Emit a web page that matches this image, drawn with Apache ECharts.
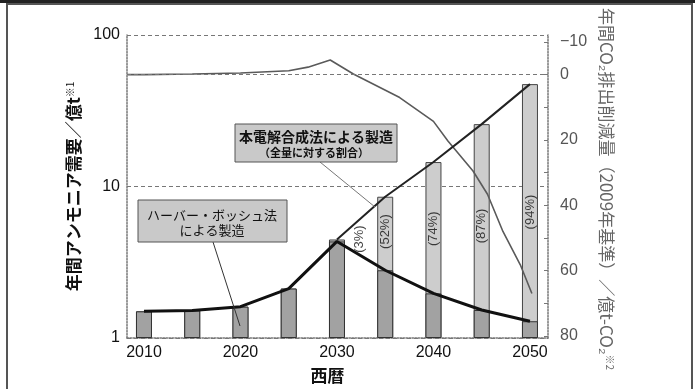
<!DOCTYPE html>
<html>
<head>
<meta charset="utf-8">
<script src="https://cdn.jsdelivr.net/npm/echarts@6/dist/echarts.min.js"></script>
<style>
  html, body { margin: 0; padding: 0; background: #fff; }
  #chart { width: 695px; height: 389px; }
</style>
</head>
<body>
<div id="chart"></div>
<script>
// bar years (every 5 years)
const years = [2010, 2015, 2020, 2025, 2030, 2035, 2040, 2045, 2050];
// total ammonia demand, 億t (log axis)
const totalDemand = [1.50, 1.52, 1.61, 2.12, 4.47, 8.56, 14.5, 25.8, 47.4];
// part made by Haber-Bosch
const habDemand = [1.50, 1.52, 1.61, 2.12, 4.34, 2.80, 1.97, 1.53, 1.29];

// share of the electrolysis process, written on the bars
const shareLabels = ['(3%)', '(52%)', '(74%)', '(87%)', '(94%)'];
const shareYears = [2032.3, 2035, 2040, 2045, 2050];
const shareLevels = [4.5, 5.04, 5.26, 5.49, 6.78];

// yearly CO2 reduction vs 2009, 億t-CO2 (right axis, inverted)
const co2Years = [2008.3, 2010, 2015, 2020, 2025, 2027, 2029.3, 2031.7, 2036.5, 2040, 2041.5, 2044.1, 2045.6, 2047.2, 2049, 2050.2];
const co2Values = [0, 0, -0.2, -0.5, -1.2, -2.3, -4.5, -0.2, 7.0, 14.3, 20.3, 29.5, 36.6, 48, 58.2, 67];

const xTickLabels = [2010, 2020, 2030, 2040, 2050];
const rightTickLabels = [-10, 0, 20, 40, 60, 80];

const jp = "'Noto Sans CJK JP', sans-serif";
const num = "'Liberation Sans', Arial, sans-serif";

const zip = (xs, ys) => xs.map((x, i) => [x, ys[i]]);

const chart = echarts.init(document.getElementById('chart'), null, { renderer: 'canvas' });

const option = {
    animation: false,
    backgroundColor: '#fff',
    grid: [
        { left: 127, right: 147, top: 35, bottom: 42 },
        { left: 127, right: 147, top: 42, bottom: 53 }
    ],
    xAxis: [
        {
            type: 'value', gridIndex: 0, min: 2008.24, max: 2051.87,
            axisLine: { lineStyle: { color: '#777', type: 'dotted', width: 1.5 } },
            axisTick: { show: true, inside: true, length: 4, customValues: years, lineStyle: { color: '#444' } },
            axisLabel: { customValues: xTickLabels, fontSize: 16, color: '#111', fontFamily: num, margin: 7, formatter: v => String(v) },
            splitLine: { show: false },
            name: '西暦', nameLocation: 'middle', nameGap: 29,
            nameTextStyle: { fontSize: 17, fontWeight: 'bold', color: '#111', fontFamily: jp, padding: [0, 20, 0, 0] }
        },
        { type: 'value', gridIndex: 1, min: 2008.24, max: 2051.87, show: false }
    ],
    yAxis: [
        {
            type: 'log', logBase: 10, gridIndex: 0, min: 1, max: 100,
            axisLine: { show: true, lineStyle: { color: '#777', type: 'dotted', width: 1.5 } },
            axisTick: { show: false },
            axisLabel: { fontSize: 16, color: '#111', fontFamily: num, margin: 7 },
            splitLine: { show: true, lineStyle: { color: '#777', type: [4, 3], width: 1 } },
            name: '年間アンモニア需要／億t{s|※1}', nameLocation: 'middle', nameRotate: 90, nameGap: 30,
            nameTextStyle: {
                fontSize: 17, fontWeight: 'bold', color: '#111', fontFamily: jp,
                rich: { s: { fontSize: 10, fontWeight: 'normal', color: '#111', verticalAlign: 'top', fontFamily: jp } }
            }
        },
        {
            type: 'value', gridIndex: 1, position: 'right', inverse: true, min: -10, max: 80, interval: 10,
            axisLine: { show: false },
            axisTick: { show: true, inside: true, length: 4, lineStyle: { color: '#777' } },
            axisLabel: {
                fontSize: 16, color: '#555', fontFamily: num, margin: 12,
                formatter: v => rightTickLabels.includes(v) ? (v < 0 ? '−' + (-v) : String(v)) : ''
            },
            splitLine: { show: false },
            name: '年間CO₂排出削減量（2009年基準）／億t-CO₂{s|※2}', nameLocation: 'middle', nameRotate: -90, nameGap: 42,
            nameTextStyle: {
                fontSize: 17, color: '#666', fontFamily: jp,
                rich: { s: { fontSize: 10, color: '#666', verticalAlign: 'top', fontFamily: jp } }
            }
        },
        {
            // right edge of the frame
            type: 'value', gridIndex: 0, position: 'right',
            axisLine: { show: true, lineStyle: { color: '#777', type: 'dotted', width: 1.5 } },
            axisTick: { show: false }, axisLabel: { show: false }, splitLine: { show: false }
        }
    ],
    series: [
        {
            name: 'total', type: 'bar', xAxisIndex: 0, yAxisIndex: 0,
            data: zip(years, totalDemand), barWidth: 16, barGap: '-100%',
            itemStyle: { color: '#cdcdcd', borderColor: '#444', borderWidth: 1 }
        },
        {
            name: 'haber', type: 'bar', xAxisIndex: 0, yAxisIndex: 0,
            data: zip(years, habDemand), barWidth: 16, barGap: '-100%',
            itemStyle: { color: '#a2a2a2', borderColor: '#333', borderWidth: 1 }
        },
        {
            name: 'co2', type: 'line', xAxisIndex: 1, yAxisIndex: 1,
            data: zip(co2Years, co2Values), symbol: 'none',
            lineStyle: { color: '#5a5a5a', width: 1.6 },
            markLine: {
                silent: true, symbol: 'none', label: { show: false },
                lineStyle: { color: '#777', type: [4, 3], width: 1 },
                data: [{ yAxis: 0 }]
            }
        },
        {
            name: 'totalLine', type: 'line', xAxisIndex: 0, yAxisIndex: 0,
            data: zip(years.slice(4), totalDemand.slice(4)), symbol: 'none',
            lineStyle: { color: '#222', width: 2 }
        },
        {
            name: 'haberLine', type: 'line', xAxisIndex: 0, yAxisIndex: 0,
            data: zip(years, habDemand), symbol: 'none',
            lineStyle: { color: '#111', width: 3 }
        },
        {
            name: 'share', type: 'scatter', xAxisIndex: 0, yAxisIndex: 0,
            data: shareYears.map((y, i) => [y, shareLevels[i], shareLabels[i]]),
            symbolSize: 0, z: 5,
            label: {
                show: true, position: 'inside', rotate: 90,
                formatter: p => p.value[2],
                fontSize: 13, color: '#111', fontFamily: num
            }
        }
    ],
    graphic: [
        { type: 'rect', shape: { x: 7, y: 4, width: 685, height: 400 }, style: { fill: 'none', stroke: '#555', lineWidth: 2 }, z: 10 },
        { type: 'line', shape: { x1: 0, y1: 1.5, x2: 695, y2: 1.5 }, style: { stroke: '#222', lineWidth: 3 }, z: 10 },
        // callout: electrolysis
        { type: 'line', shape: { x1: 320, y1: 162, x2: 375, y2: 207 }, style: { stroke: '#777', lineWidth: 1 }, z: 10 },
        { type: 'rect', shape: { x: 235, y: 124, width: 162, height: 38 }, style: { fill: '#c9c9c9', stroke: '#555', lineWidth: 1 }, z: 10 },
        { type: 'text', z: 11, style: { text: '本電解合成法による製造', x: 316, y: 137, align: 'center', verticalAlign: 'middle', fontSize: 14, fontWeight: 'bold', fontFamily: jp, fill: '#111' } },
        { type: 'text', z: 11, style: { text: '（全量に対する割合）', x: 314, y: 153, align: 'center', verticalAlign: 'middle', fontSize: 11, fontWeight: 'bold', fontFamily: jp, fill: '#111' } },
        // callout: Haber-Bosch
        { type: 'line', shape: { x1: 213, y1: 242, x2: 240, y2: 326 }, style: { stroke: '#333', lineWidth: 1 }, z: 10 },
        { type: 'rect', shape: { x: 138, y: 200, width: 149, height: 42 }, style: { fill: '#c9c9c9', stroke: '#555', lineWidth: 1 }, z: 10 },
        { type: 'text', z: 11, style: { text: 'ハーバー・ボッシュ法', x: 212, y: 215, align: 'center', verticalAlign: 'middle', fontSize: 13, fontFamily: jp, fill: '#111' } },
        { type: 'text', z: 11, style: { text: 'による製造', x: 212, y: 230, align: 'center', verticalAlign: 'middle', fontSize: 13, fontFamily: jp, fill: '#111' } }
    ]
};

chart.setOption(option);
</script>
</body>
</html>
